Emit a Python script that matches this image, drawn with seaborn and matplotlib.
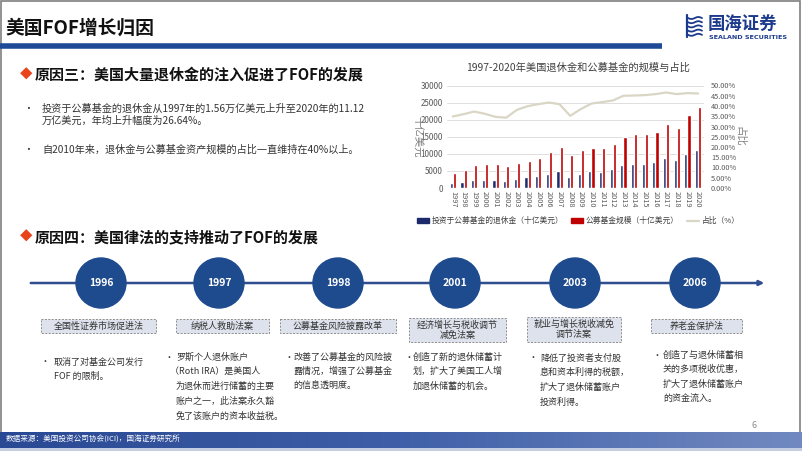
import numpy as np
import pandas as pd
import matplotlib
matplotlib.use("Agg")
import matplotlib.pyplot as plt
import matplotlib.patches as mpatches
from matplotlib.lines import Line2D
from matplotlib.colors import LinearSegmentedColormap
from matplotlib.ticker import FuncFormatter
import seaborn as sns

# ---- chart data (十亿美元 / %) ----
years = [str(y) for y in range(1997, 2021)]
retire = [1560, 1900, 2400, 2400, 2300, 2100, 2700, 3100, 3600, 4200, 4900, 3300,
          4200, 4900, 4800, 5500, 6700, 7100, 7000, 7500, 8700, 8100, 9900, 11120]
fund = [4400, 5300, 6800, 6900, 6900, 6400, 7300, 8000, 8800, 10400, 12000, 9600,
        11100, 11800, 11600, 13000, 15000, 15900, 15700, 16300, 18800, 17700, 21300, 23800]
ratio = [34.9, 36.0, 37.3, 36.2, 34.7, 34.3, 38.1, 39.9, 40.9, 41.7, 40.9, 35.2,
         38.5, 41.2, 41.9, 42.7, 45.0, 45.1, 45.3, 45.8, 46.6, 45.8, 46.3, 46.1]
series_names = ["投资于公募基金的退休金（十亿美元）", "公募基金规模（十亿美元）", "占比（%）"]

# ---- timeline data ----
law_years = ["1996", "1997", "1998", "2001", "2003", "2006"]
law_names = ["全国性证券市场促进法", "纳税人救助法案", "公募基金风险披露改革",
             "经济增长与税收调节\n减免法案", "就业与增长税收减免\n调节法案", "养老金保护法"]
law_notes = [
    ["取消了对基金公司发行", "FOF 的限制。"],
    ["罗斯个人退休账户", "（Roth IRA）是美国人", "为退休而进行储蓄的主要",
     "账户之一，此法案永久豁", "免了该账户的资本收益税。"],
    ["改善了公募基金的风险披", "露情况，增强了公募基金", "的信息透明度。"],
    ["创造了新的退休储蓄计", "划，扩大了美国工人增", "加退休储蓄的机会。"],
    ["降低了投资者支付股", "息和资本利得的税额，", "扩大了退休储蓄账户", "投资利得。"],
    ["创造了与退休储蓄相", "关的多项税收优惠，", "扩大了退休储蓄账户", "的资金流入。"],
]

NAVY = "#1B2A6B"
RED = "#C00000"
BEIGE = "#DAD6C5"
DARK = "#1E4A8E"
GRAY = "#595959"

sns.set_theme(style="white")
plt.rcParams["font.family"] = ["Noto Sans CJK SC", "DejaVu Sans"]

fig = plt.figure(figsize=(8.02, 4.51), dpi=100)
fig.patch.set_facecolor("white")

# background layer in pixel coordinates
bg = fig.add_axes([0, 0, 1, 1])
bg.set_xlim(0, 802)
bg.set_ylim(451, 0)
bg.axis("off")

# slide frame
bg.add_patch(mpatches.Rectangle((1, 1), 799, 449, fc="none", ec="#7F7F7F", lw=1.2))

# header
bg.text(5, 28, "美国FOF增长归因", fontsize=13.5, fontweight="bold", color="#111111", va="center")
bg.plot([0, 662], [45.5, 45.5], color="#1F4B96", lw=4, solid_capstyle="butt")

# logo
for i in range(5):
    yy = 18 + i * 4.2
    xs = np.linspace(688, 702, 20)
    bg.plot(xs, yy + 1.0 * np.sin((xs - 688) / 2.2), color="#1B3A8C", lw=1.3)
bg.plot([687, 687], [15, 37], color="#1B3A8C", lw=1.6)
bg.text(708, 24, "国海证券", fontsize=12.5, fontweight="bold", color="#1B3A8C", va="center")
bg.text(709, 37.5, "SEALAND SECURITIES", fontsize=4.6, fontweight="bold", color="#1B3A8C",
        va="center", family=["DejaVu Sans"])

# section 1
bg.text(20, 75, "◆", fontsize=9, color="#E8431A", va="center", ha="left")
bg.text(35, 75, "原因三：美国大量退休金的注入促进了FOF的发展", fontsize=10.8,
        fontweight="bold", color="#111111", va="center")
bg.text(23, 109, "•", fontsize=7, color="#333333", va="center")
bg.text(42, 109, "投资于公募基金的退休金从1997年的1.56万亿美元上升至2020年的11.12",
        fontsize=7.3, color="#333333", va="center")
bg.text(42, 121, "万亿美元，年均上升幅度为26.64%。", fontsize=7.3, color="#333333", va="center")
bg.text(23, 150, "•", fontsize=7, color="#333333", va="center")
bg.text(42, 150, "自2010年来，退休金与公募基金资产规模的占比一直维持在40%以上。",
        fontsize=7.3, color="#333333", va="center")

# section 2
bg.text(20, 237, "◆", fontsize=9, color="#E8431A", va="center", ha="left")
bg.text(35, 237, "原因四：美国律法的支持推动了FOF的发展", fontsize=10.8,
        fontweight="bold", color="#111111", va="center")

# timeline
bg.annotate("", xy=(767, 283), xytext=(28, 283),
            arrowprops=dict(arrowstyle="-|>", color="#2E4E8F", lw=1.8, mutation_scale=7))
cx = [101, 219, 338, 455, 575, 695]
boxes = [(41, 319, 115, 14), (176, 319, 93, 14), (280, 319, 116, 14),
         (409, 318, 97, 24), (527, 317, 94, 25), (651, 319, 91, 14)]
note_pos = [(41, 54, 362), (165, 176, 357), (284, 293, 357),
            (404, 413, 357), (529, 540, 358), (652, 663, 355)]
for i, yr in enumerate(law_years):
    bg.add_patch(mpatches.Circle((cx[i], 283), 25, color=DARK, zorder=3))
    bg.text(cx[i], 283, yr, color="white", fontsize=7.5, fontweight="bold",
            ha="center", va="center", zorder=4)
    x0, y0, w, h = boxes[i]
    bg.add_patch(mpatches.Rectangle((x0, y0), w, h, fc="#DDE2EC", ec="#8C8C8C",
                                    lw=0.7, ls=(0, (2, 1.5))))
    bg.text(x0 + w / 2, y0 + h / 2, law_names[i], fontsize=6.5, color="#333333",
            ha="center", va="center", linespacing=1.1)
    bx, tx, ty = note_pos[i]
    bg.text(bx, ty, "•", fontsize=6.5, color="#333333", va="center")
    for j, line in enumerate(law_notes[i]):
        lx = tx - 6 if line.startswith("（") else tx
        bg.text(lx, ty + j * 14.7, line, fontsize=6.5, color="#333333", va="center")

bg.text(752, 425, "6", fontsize=6.5, color="#8C8C8C", va="center")

# footer gradient
cmap = LinearSegmentedColormap.from_list("foot", ["#2A4994", "#3F5FA8", "#7189C0"])
grad = np.linspace(0, 1, 256).reshape(1, -1)
bg.imshow(grad, extent=[0, 802, 448, 432], cmap=cmap, aspect="auto", zorder=1)
bg.add_patch(mpatches.Rectangle((0, 448), 802, 3, fc="#C5CDE0", ec="none"))
bg.text(6, 440, "数据来源：美国投资公司协会(ICI)，国海证券研究所", fontsize=5.5,
        color="white", va="center", zorder=2)
bg.set_xlim(0, 802)
bg.set_ylim(451, 0)

# ---- the chart ----
ax = fig.add_axes([447 / 802, 1 - 188 / 451, (704 - 447) / 802, (188 - 85.5) / 451])
df = pd.DataFrame({
    "year": years * 2,
    "value": retire + fund,
    "series": [series_names[0]] * len(years) + [series_names[1]] * len(years),
})
sns.barplot(data=df, x="year", y="value", hue="series", palette=[NAVY, RED],
            width=0.62, saturation=1, legend=False, ax=ax)
ax.set_ylim(0, 30000)
ax.set_yticks(range(0, 30001, 5000))
ax.yaxis.grid(True, color="#D9D9D9", lw=0.6)
ax.set_axisbelow(True)
for s in ax.spines.values():
    s.set_visible(False)
ax.tick_params(axis="y", labelsize=5.8, colors=GRAY, pad=3, length=0)
ax.tick_params(axis="x", labelsize=5.3, colors=GRAY, pad=2, length=0, rotation=270)
ax.set_xlabel("")
ax.set_ylabel("十亿美元", fontsize=7.5, color="#7F7F7F", rotation=270)
ax.yaxis.set_label_coords(-0.135, 0.5)

ax2 = ax.twinx()
sns.lineplot(x=np.arange(len(years)), y=ratio, color=BEIGE, lw=1.6, ax=ax2)
ax2.set_ylim(0, 50)
ax2.set_yticks(range(0, 51, 5))
ax2.yaxis.set_major_formatter(FuncFormatter(lambda v, _: f"{v:.2f}%"))
ax2.tick_params(axis="y", labelsize=5.3, colors=GRAY, pad=5, length=0)
for s in ax2.spines.values():
    s.set_visible(False)
ax2.set_ylabel("占比", fontsize=7.5, color="#7F7F7F", rotation=270)
ax2.yaxis.set_label_coords(1.16, 0.5)
ax.set_xlim(-0.55, len(years) - 0.45)

fig.text(578 / 802, 1 - 68 / 451, "1997-2020年美国退休金和公募基金的规模与占比",
         fontsize=7.4, color="#404040", ha="center", va="center")

handles = [mpatches.Patch(color=NAVY), mpatches.Patch(color=RED),
           Line2D([0], [0], color=BEIGE, lw=1.6)]
fig.legend(handles, series_names, loc="center", bbox_to_anchor=(578 / 802, 1 - 221 / 451),
           ncol=3, frameon=False, fontsize=5.6, handlelength=1.6, handleheight=0.5,
           columnspacing=1.0, handletextpad=0.3, labelcolor="#404040")

fig.savefig("out.png", dpi=100)
